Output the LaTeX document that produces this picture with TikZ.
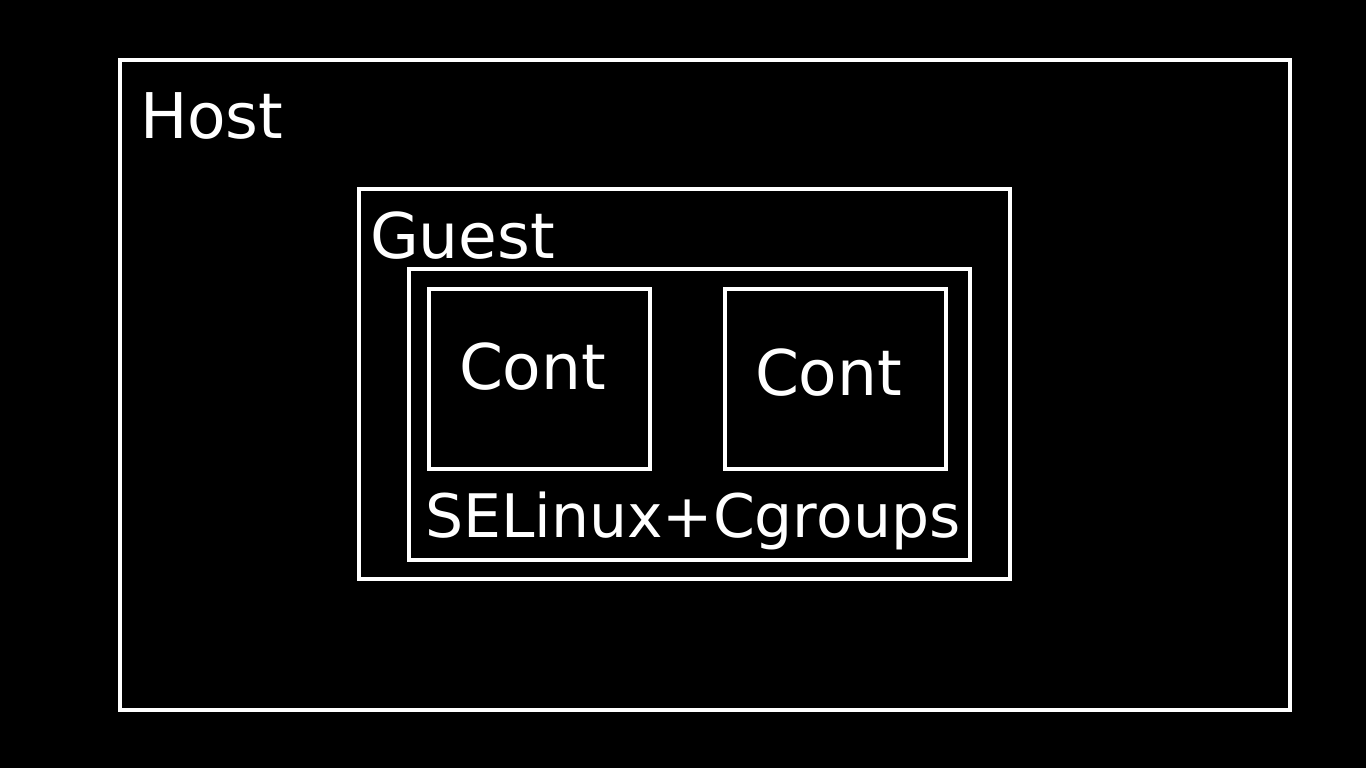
\documentclass[tikz,border=0pt]{standalone}
\usepackage{fontspec}
\setmainfont{DejaVu Sans}
\begin{document}
\begin{tikzpicture}[x=1pt,y=-1pt,
  box/.style={draw=white,line width=4pt,inner sep=0pt,outer sep=0pt,anchor=north west},
  lbl/.style={text=white,inner sep=0pt,outer sep=0pt,anchor=base west,font=\fontsize{63}{70}\selectfont},
  lblsm/.style={lbl,font=\fontsize{60}{66}\selectfont}]
\fill[black] (0,0) rectangle (1366,768);
\useasboundingbox (0,0) rectangle (1366,768);
\node[box,minimum width=1170pt,minimum height=650pt] (host) at (120,60) {};
\node[box,minimum width=651pt,minimum height=390pt] (guest) at (359,189) {};
\node[box,minimum width=561pt,minimum height=291pt] (sel) at (409,269) {};
\node[box,minimum width=221pt,minimum height=180pt] (cont1) at (429,289) {};
\node[box,minimum width=221pt,minimum height=180pt] (cont2) at (725,289) {};
\node[lbl] (hostlbl) at (140,138) {Host};
\node[lbl] (guestlbl) at (370,258) {Guest};
\node[lbl] (cont1lbl) at (459,389) {Cont};
\node[lbl] (cont2lbl) at (755,395) {Cont};
\node[lblsm] (sellbl) at (425,537) {SELinux+Cgroups};
\end{tikzpicture}
\end{document}
